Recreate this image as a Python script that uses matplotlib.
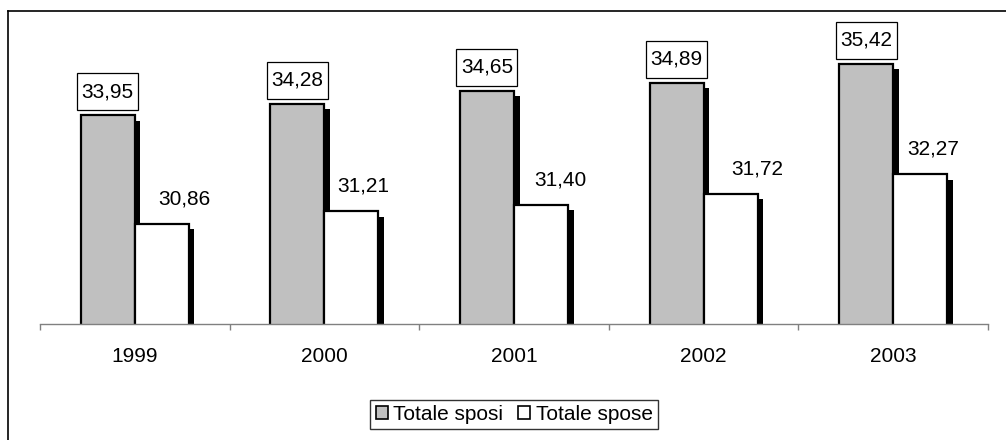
import matplotlib.pyplot as plt
import matplotlib.patheffects as pe
import matplotlib.transforms as mtransforms
from matplotlib.lines import Line2D
from matplotlib.patches import Rectangle
import numpy as np

plt.rcParams['font.family'] = ['Liberation Sans', 'DejaVu Sans']

years = ['1999', '2000', '2001', '2002', '2003']
sposi = [33.95, 34.28, 34.65, 34.89, 35.42]
spose = [30.86, 31.21, 31.40, 31.72, 32.27]

# manual nudges (points) of the spose labels, as in the original
spose_dx = [16.5, 8.5, 14, 19.5, 9.5]

fig = plt.figure(figsize=(10.06, 4.4), dpi=100)
W, H = 1006, 440
ax = fig.add_axes([40 / W, (H - 324) / H, 948 / W, 294 / H])

x = np.arange(len(years))
w = 0.285
shadow = [pe.SimplePatchShadow(offset=(4, -4), shadow_rgbFace='black', alpha=1.0), pe.Normal()]

b1 = ax.bar(x - w / 2, sposi, w, color='#c0c0c0', edgecolor='black', linewidth=1.6,
            label='Totale sposi')
b2 = ax.bar(x + w / 2, spose, w, color='white', edgecolor='black', linewidth=1.6,
            label='Totale spose')
for b in list(b1) + list(b2):
    b.set_path_effects(shadow)

ax.set_ylim(28, 28 + 294 / 35.05)
ax.set_xlim(-0.5, len(years) - 0.5)

FS = 15
for i in range(len(years)):
    # boxed label above the sposi bar (box size in inches, offset from bar top)
    tr = fig.dpi_scale_trans + mtransforms.ScaledTranslation(x[i] - w / 2, sposi[i], ax.transData)
    ax.add_patch(Rectangle((-0.305, 0.05), 0.61, 0.37, transform=tr, fc='white',
                           ec='black', lw=0.9, clip_on=False))
    ax.annotate(f'{sposi[i]:.2f}'.replace('.', ','), (x[i] - w / 2, sposi[i]),
                xytext=(0, 17), textcoords='offset points', ha='center', va='center',
                fontsize=FS)
    ax.annotate(f'{spose[i]:.2f}'.replace('.', ','), (x[i] + w / 2, spose[i]),
                xytext=(spose_dx[i], 18), textcoords='offset points', ha='center', va='center',
                fontsize=FS)

for s in ['top', 'right', 'left']:
    ax.spines[s].set_visible(False)
ax.spines['bottom'].set_color('#808080')
ax.spines['bottom'].set_linewidth(1.0)
ax.set_yticks([])
ax.set_xticks(x)
ax.set_xticklabels(years, fontsize=FS)
ax.tick_params(axis='x', which='major', length=0, pad=16.5)
ax.set_xticks(np.arange(-0.5, len(years)), minor=True)
ax.tick_params(axis='x', which='minor', length=4.5, color='#808080', width=1.0)

leg = fig.legend(handles=[b1, b2], loc='center', bbox_to_anchor=(514 / W, 1 - 414.5 / H),
                 ncol=2, fontsize=FS, frameon=True, fancybox=False, edgecolor='black',
                 handlelength=0.6, handleheight=0.6, handletextpad=0.25, columnspacing=0.7,
                 borderpad=0.25, borderaxespad=0)
leg.get_frame().set_linewidth(1.0)
for h in leg.legend_handles:
    h.set_path_effects([])
    h.set_linewidth(1.2)

# outer chart frame (left and top only visible)
fig.add_artist(Line2D([8 / W, 8 / W], [0, 1 - 11 / H], color='black', lw=1.2))
fig.add_artist(Line2D([8 / W, 1], [1 - 11 / H, 1 - 11 / H], color='black', lw=1.2))

fig.savefig('out.png', dpi=100)
